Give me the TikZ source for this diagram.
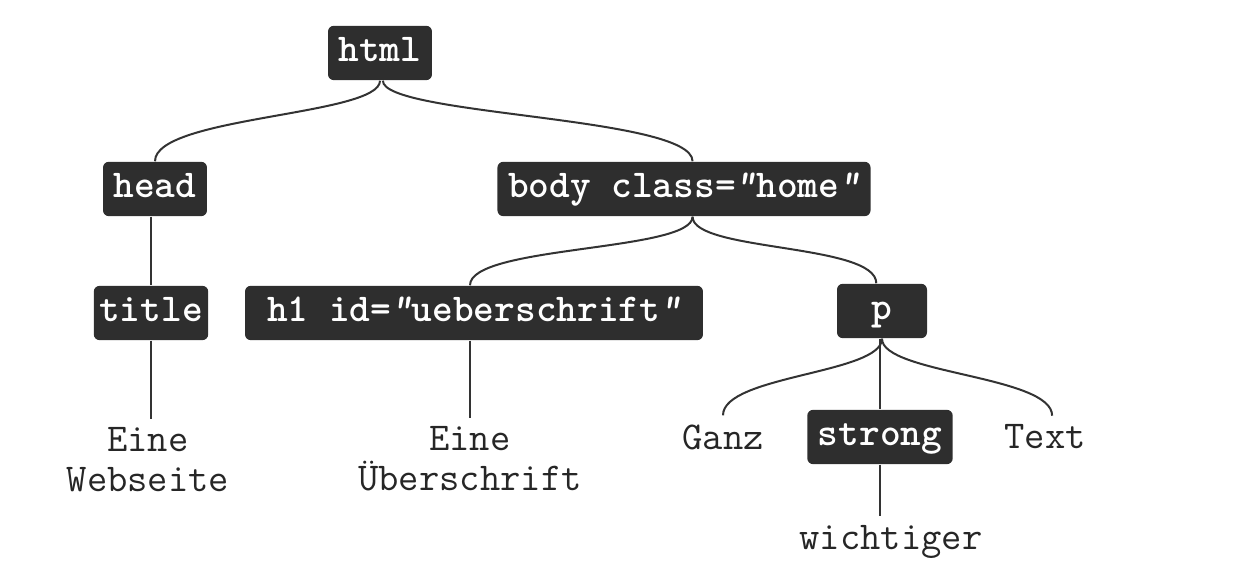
\documentclass[tikz,border=0pt]{standalone}
\usepackage{fontspec}
\usetikzlibrary{positioning}
\newcommand{\slq}{{\slshape"}}

\begin{document}
\begin{tikzpicture}[
  x=0.35pt, y=-0.35pt,
  font=\ttfamily\fontsize{13.8}{14}\selectfont,
  tag/.style={fill=black!82, text=white, font=\ttfamily\bfseries\fontsize{13.8}{14}\selectfont,
    rounded corners=2pt, minimum height=19pt, inner xsep=3.7pt, inner ysep=0pt,
    text height=9pt, text depth=3pt},
  leaf/.style={text=black!85, align=center, inner sep=3pt},
  link/.style={draw=black!80, line width=0.7pt}
]
\useasboundingbox (0,0) rectangle (1233,581);

% --- Element nodes ---
\node[tag] (html) at (380,53) {html};
\node[tag] (head) at (155,189) {head};
\node[tag] (body) at (684,189) {body class=\slq home\slq};
\node[tag, inner xsep=1.9pt] (title) at (151,313) {title};
\node[tag, inner xsep=7.7pt] (h1) at (474,313) {h1 id=\slq ueberschrift\slq};
\node[tag, minimum width=31.5pt] (p) at (882,311) {p};
\node[tag] (strong) at (880,437) {strong};

% --- Text nodes ---
\node[leaf] (webseite) at (148,460) {Eine\\Webseite};
\node[leaf] (ueber) at (470,459) {Eine\\Überschrift};
\node[leaf] (ganz) at (723,437) {Ganz};
\node[leaf] (text) at (1045,437) {Text};
\node[leaf] (wicht) at (891,542) {wichtiger};

% --- Connectors ---
\draw[link] (html.south) .. controls +(0,35) and +(0,-45) .. (head.north);
\draw[link] ([xshift=1pt]html.south) .. controls +(0,35) and +(0,-45) .. ([xshift=3pt]body.north);
\draw[link] (head.south -| title.north) -- (title.north);
\draw[link] (title.south) -- (title.south |- webseite.north);
\draw[link] ([xshift=3pt]body.south) .. controls +(0,35) and +(0,-40) .. (h1.north -| ueber.north);
\draw[link] ([xshift=3pt]body.south) .. controls +(0,35) and +(0,-40) .. ([xshift=-2pt]p.north);
\draw[link] (h1.south -| ueber.north) -- (ueber.north);
\draw[link] (p.south) .. controls +(0,35) and +(0,-40) .. (ganz.north);
\draw[link] (p.south) .. controls +(0,35) and +(0,-40) .. ([xshift=2.5pt]text.north);
\draw[link] (p.south -| strong.north) -- (strong.north);
\draw[link] (strong.south) -- (strong.south |- wicht.north);

\end{tikzpicture}
\end{document}
